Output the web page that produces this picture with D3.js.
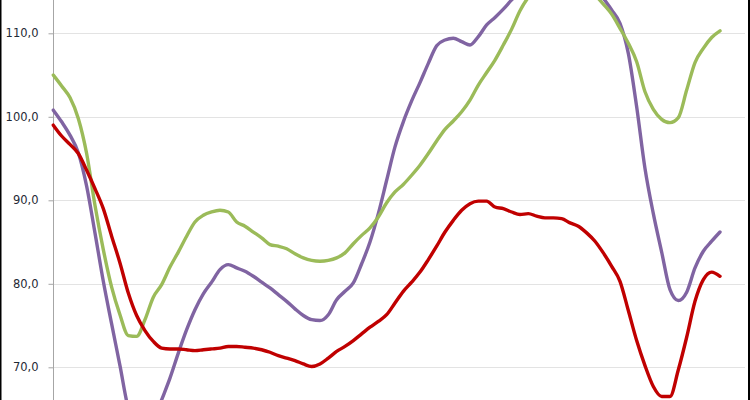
<!DOCTYPE html>
<html>
<head>
<meta charset="utf-8">
<script src="https://cdn.jsdelivr.net/npm/d3@7"></script>
<style>
  html, body { margin: 0; padding: 0; background: #fff; }
  svg { display: block; }
</style>
</head>
<body>
<svg id="chart" width="750" height="400"></svg>
<script>
// Period index (81 evenly spaced observations)
const periods = d3.range(81);

const yTicks = [70, 80, 90, 100, 110];

const redSeries = [
  99.0, 97.7, 96.7, 95.6, 93.6, 91.4, 89.0, 85.7, 82.5, 78.9,
  76.2, 74.4, 73.1, 72.3, 72.2, 72.2, 72.1, 72.0, 72.1, 72.2,
  72.3, 72.5, 72.5, 72.4, 72.3, 72.1, 71.8, 71.4, 71.1, 70.8,
  70.4, 70.1, 70.4, 71.1, 71.9, 72.5, 73.2, 74.0, 74.8, 75.5,
  76.3, 77.7, 79.1, 80.2, 81.4, 82.9, 84.5, 86.2, 87.6, 88.8,
  89.6, 89.9, 89.9, 89.2, 89.0, 88.6, 88.3, 88.4, 88.1, 87.9,
  87.9, 87.8, 87.3, 86.9, 86.1, 85.1, 83.7, 82.1, 80.3, 76.8,
  73.2, 70.2, 67.7, 66.5, 66.5, 69.7, 73.6, 77.9, 80.5, 81.4,
  80.9
];

const greenSeries = [
  105.0, 103.7, 102.3, 99.8, 95.6, 89.4, 84.1, 79.6, 76.3, 73.8,
  73.7, 75.7, 78.4, 79.9, 82.0, 83.8, 85.7, 87.4, 88.2, 88.6,
  88.8, 88.6, 87.4, 86.9, 86.2, 85.5, 84.7, 84.5, 84.2, 83.6,
  83.1, 82.8, 82.7, 82.8, 83.1, 83.7, 84.8, 85.8, 86.7, 88.0,
  89.7, 91.0, 91.9, 93.0, 94.2, 95.6, 97.1, 98.5, 99.5, 100.6,
  102.0, 103.8, 105.3, 106.8, 108.6, 110.5, 112.7, 114.3, 115.3, 116.0,
  116.5, 116.7, 116.6, 116.2, 115.5, 114.6, 113.5, 112.3, 110.6, 108.8,
  106.6, 103.0, 100.9, 99.7, 99.3, 99.9, 103.2, 106.5, 108.2, 109.5,
  110.3
];

const purpleSeries = [
  100.8, 99.4, 97.8, 95.7, 91.7, 86.1, 80.3, 75.2, 70.2, 65.1,
  63.3, 62.5, 63.5, 66.1, 68.7, 71.7, 74.5, 76.9, 78.8, 80.2,
  81.7, 82.3, 81.9, 81.5, 80.9, 80.2, 79.5, 78.7, 77.9, 77.0,
  76.2, 75.7, 75.6, 76.3, 78.1, 79.1, 80.1, 82.4, 85.0, 88.4,
  92.4, 96.4, 99.4, 101.9, 104.1, 106.4, 108.5, 109.2, 109.4, 109.0,
  108.6, 109.6, 111.0, 111.9, 112.9, 114.0, 115.0, 116.0, 116.8, 117.5,
  118.0, 118.3, 118.3, 117.9, 117.0, 115.6, 114.2, 112.8, 111.2, 107.6,
  101.2, 93.8, 88.4, 83.8, 79.3, 78.0, 79.0, 81.9, 83.9, 85.1,
  86.2
];

const seriesList = [
  { name: "purple", values: purpleSeries, color: "#8064A2" },
  { name: "green",  values: greenSeries,  color: "#9BBB59" },
  { name: "red",    values: redSeries,    color: "#C00000" }
];

const svg = d3.select("#chart");
const W = 750, H = 400;

const x = d3.scaleLinear().domain([0, periods.length - 1]).range([53.3, 720]);
const y = d3.scaleLinear().domain([70, 110]).range([367.3, 33.3]);

svg.append("rect").attr("width", W).attr("height", H).attr("fill", "#fff");

// gridlines
svg.append("g")
  .selectAll("line")
  .data(yTicks)
  .join("line")
  .attr("x1", 53.3).attr("x2", 745)
  .attr("y1", d => Math.round(y(d)) + 0.5)
  .attr("y2", d => Math.round(y(d)) + 0.5)
  .attr("stroke", "#e3e3e3")
  .attr("stroke-width", 1.2);

// y axis
const yAxis = d3.axisLeft(y)
  .tickValues(yTicks)
  .tickSize(5)
  .tickPadding(10)
  .tickFormat(d => d3.format(".1f")(d).replace(".", ","));

const gAxis = svg.append("g")
  .attr("transform", "translate(53.5,0)")
  .call(yAxis);
gAxis.select(".domain").remove();
gAxis.selectAll(".tick line").attr("stroke", "#a6a6a6");
gAxis.selectAll(".tick text")
  .attr("fill", "#1f2a36")
  .attr("font-family", "'DejaVu Sans', Verdana, sans-serif")
  .attr("font-size", "11.5px");

svg.append("line")
  .attr("x1", 53.5).attr("x2", 53.5)
  .attr("y1", 0).attr("y2", H)
  .attr("stroke", "#a6a6a6").attr("stroke-width", 1);

// lines
const line = d3.line()
  .x((d, i) => x(periods[i]))
  .y(d => y(d))
  .curve(d3.curveMonotoneX);

svg.append("g")
  .selectAll("path")
  .data(seriesList)
  .join("path")
  .attr("d", s => line(s.values))
  .attr("fill", "none")
  .attr("stroke", s => s.color)
  .attr("stroke-width", 3.4)
  .attr("stroke-linejoin", "round")
  .attr("stroke-linecap", "round");

// black frame edges
svg.append("rect").attr("x", 0).attr("y", 0).attr("width", 1.5).attr("height", H).attr("fill", "#000");
svg.append("rect").attr("x", 748).attr("y", 0).attr("width", 2).attr("height", H).attr("fill", "#000");
</script>
</body>
</html>
